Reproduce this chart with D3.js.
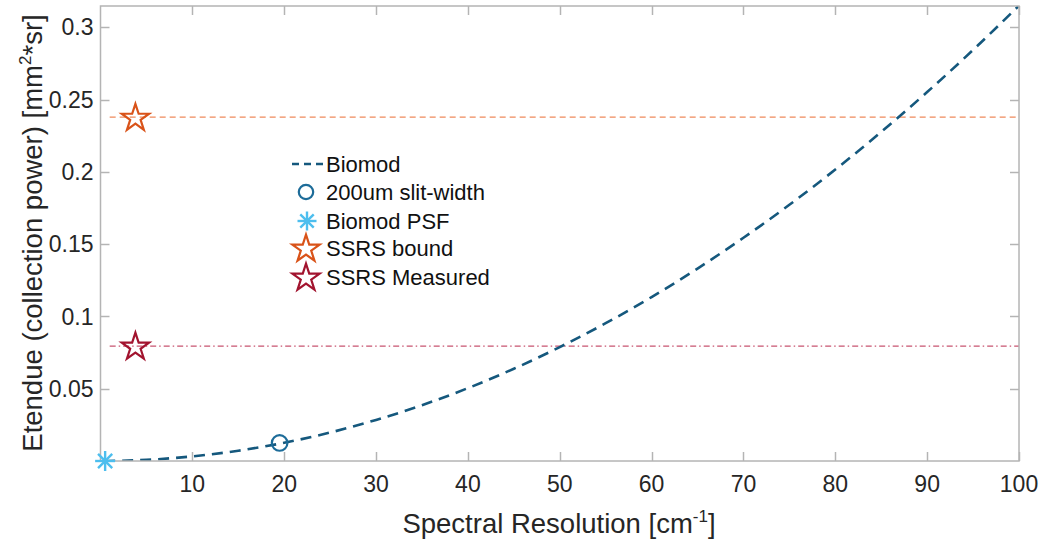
<!DOCTYPE html>
<html>
<head>
<meta charset="utf-8">
<script src="https://cdn.jsdelivr.net/npm/d3@7"></script>
<style>
  html, body { margin: 0; padding: 0; background: #fff; }
  svg { display: block; font-family: "Liberation Sans", Arial, sans-serif; }
</style>
</head>
<body>
<svg id="chart" width="1042" height="544"></svg>
<script>
// Etendue of the Biomod design as a function of spectral resolution
const resolution = [0.4, 5, 10, 15, 20, 25, 30, 35, 40, 45, 50, 55, 60, 65, 70, 75, 80, 85, 90, 95, 100];
const etendue    = [0.0000, 0.0008, 0.0032, 0.0071, 0.0126, 0.0197, 0.0284, 0.0386, 0.0504, 0.0638,
                    0.0788, 0.0953, 0.1134, 0.1331, 0.1544, 0.1772, 0.2016, 0.2276, 0.2552, 0.2843, 0.3150];

// Single operating points
const slitPoint = [19.5, 0.0125];
const psfPoint = [0.45, 0.0];
const ssrsBoundPoint = [3.8, 0.2378];
const ssrsMeasuredPoint = [3.8, 0.0795];

// Reference levels drawn across the plot
const ssrsBoundLevel = 0.2378;
const ssrsMeasuredLevel = 0.0795;
const levelStart = 1.0;

const xTicks = [10, 20, 30, 40, 50, 60, 70, 80, 90, 100];
const yTicks = [0.05, 0.1, 0.15, 0.2, 0.25, 0.3];
const xDomain = [0, 100];
const yDomain = [0, 0.3147];

const legendLabels = ["Biomod", "200um slit-width", "Biomod PSF", "SSRS bound", "SSRS Measured"];

const colors = {
  curve: "#15587d",
  slit: "#1d6c99",
  psf: "#4dbeee",
  bound: "#d95319",
  boundLine: "#ef8a5c",
  measured: "#a2142f",
  measuredLine: "#c85470",
  axis: "#b4b4b4",
  text: "#262626"
};

const svg = d3.select("#chart");
const m = { left: 100.5, right: 1019, top: 6, bottom: 461 };

const x = d3.scaleLinear().domain(xDomain).range([m.left, m.right]);
const y = d3.scaleLinear().domain(yDomain).range([m.bottom, m.top]);

const plot = svg.append("g");

// clip so nothing crosses the box
svg.append("defs").append("clipPath").attr("id", "clip")
  .append("rect").attr("x", m.left).attr("y", m.top)
  .attr("width", m.right - m.left).attr("height", m.bottom - m.top);

// reference levels
plot.append("line")
  .attr("x1", x(levelStart)).attr("x2", x(xDomain[1]))
  .attr("y1", y(ssrsBoundLevel)).attr("y2", y(ssrsBoundLevel))
  .attr("stroke", colors.boundLine).attr("stroke-width", 1.3)
  .attr("stroke-dasharray", "6,4");

plot.append("line")
  .attr("x1", x(levelStart)).attr("x2", x(xDomain[1]))
  .attr("y1", y(ssrsMeasuredLevel)).attr("y2", y(ssrsMeasuredLevel))
  .attr("stroke", colors.measuredLine).attr("stroke-width", 1.3)
  .attr("stroke-dasharray", "6,3,1.5,3");

// Biomod curve
const line = d3.line()
  .x((d, i) => x(resolution[i]))
  .y(d => y(d))
  .curve(d3.curveMonotoneX);

plot.append("path")
  .datum(etendue)
  .attr("clip-path", "url(#clip)")
  .attr("d", line)
  .attr("fill", "none")
  .attr("stroke", colors.curve)
  .attr("stroke-width", 2.6)
  .attr("stroke-dasharray", "11,7");

// marker shapes
const starSize = 232;
function drawStar(g, cx, cy, color) {
  g.append("path")
    .attr("d", d3.symbol().type(d3.symbolStar).size(starSize)())
    .attr("transform", `translate(${cx},${cy})`)
    .attr("fill", "none")
    .attr("stroke", color)
    .attr("stroke-width", 2.2)
    .attr("stroke-linejoin", "miter");
}
function drawAsterisk(g, cx, cy, color, r) {
  const a = g.append("g").attr("transform", `translate(${cx},${cy})`);
  [0, 45, 90, 135].forEach(ang => {
    const rad = ang * Math.PI / 180;
    a.append("line")
      .attr("x1", -r * Math.cos(rad)).attr("y1", -r * Math.sin(rad))
      .attr("x2", r * Math.cos(rad)).attr("y2", r * Math.sin(rad))
      .attr("stroke", color).attr("stroke-width", 2.4);
  });
}
function drawCircle(g, cx, cy, color, r) {
  g.append("circle").attr("cx", cx).attr("cy", cy).attr("r", r)
    .attr("fill", "none").attr("stroke", color).attr("stroke-width", 2.2);
}

drawCircle(plot, x(slitPoint[0]), y(slitPoint[1]), colors.slit, 7.8);
drawStar(plot, x(ssrsBoundPoint[0]), y(ssrsBoundPoint[1]) + 1, colors.bound);
drawStar(plot, x(ssrsMeasuredPoint[0]), y(ssrsMeasuredPoint[1]) + 1, colors.measured);

// axes box with inward ticks on all sides
const tickLen = 9;
const tickFont = 23;
const axes = svg.append("g");
axes.append("rect")
  .attr("x", m.left).attr("y", m.top)
  .attr("width", m.right - m.left).attr("height", m.bottom - m.top)
  .attr("fill", "none").attr("stroke", colors.axis).attr("stroke-width", 1.5);

xTicks.forEach(t => {
  const px = Math.round(x(t)) + 0.5;
  axes.append("line").attr("x1", px).attr("x2", px)
    .attr("y1", m.bottom).attr("y2", m.bottom - tickLen)
    .attr("stroke", colors.axis).attr("stroke-width", 1.5);
  axes.append("line").attr("x1", px).attr("x2", px)
    .attr("y1", m.top).attr("y2", m.top + tickLen)
    .attr("stroke", colors.axis).attr("stroke-width", 1.5);
  axes.append("text").attr("x", x(t)).attr("y", 491.5)
    .attr("text-anchor", "middle").attr("font-size", tickFont)
    .attr("fill", colors.text).text(d3.format("d")(t));
});

yTicks.forEach(t => {
  const py = Math.round(y(t)) + 0.5;
  axes.append("line").attr("x1", m.left).attr("x2", m.left + tickLen)
    .attr("y1", py).attr("y2", py)
    .attr("stroke", colors.axis).attr("stroke-width", 1.5);
  axes.append("line").attr("x1", m.right).attr("x2", m.right - tickLen)
    .attr("y1", py).attr("y2", py)
    .attr("stroke", colors.axis).attr("stroke-width", 1.5);
  axes.append("text").attr("x", m.left - 7).attr("y", y(t) + 8.2)
    .attr("text-anchor", "end").attr("font-size", tickFont)
    .attr("fill", colors.text).text(String(t));
});

// asterisk drawn over the axis line
drawAsterisk(svg, x(psfPoint[0]) + 0.5, y(psfPoint[1]), colors.psf, 10);

// axis titles
const xl = svg.append("text").attr("x", 559).attr("y", 533)
  .attr("text-anchor", "middle").attr("font-size", 27.5).attr("fill", colors.text);
xl.append("tspan").text("Spectral Resolution [cm");
xl.append("tspan").attr("font-size", 17).attr("dy", -11).text("-1");
xl.append("tspan").attr("dy", 11).text("]");

const yl = svg.append("text")
  .attr("transform", "translate(42,233) rotate(-90)")
  .attr("text-anchor", "middle").attr("font-size", 27.5).attr("fill", colors.text);
yl.append("tspan").text("Etendue (collection power) [mm");
yl.append("tspan").attr("font-size", 17).attr("dy", -11).text("2");
yl.append("tspan").attr("dy", 11).text("*sr]");

// legend
const legend = svg.append("g");
const legY = [164, 192, 221, 248, 277];
const iconX = 306;
const textX = 326;
legendLabels.forEach((lab, i) => {
  legend.append("text").attr("x", textX).attr("y", legY[i] + 7.5)
    .attr("font-size", 22).attr("fill", "#111").text(lab);
});
legend.append("line").attr("x1", 292).attr("x2", 324)
  .attr("y1", legY[0]).attr("y2", legY[0])
  .attr("stroke", colors.curve).attr("stroke-width", 2.4).attr("stroke-dasharray", "7,5");
drawCircle(legend, iconX, legY[1], colors.slit, 7.2);
drawAsterisk(legend, iconX + 1, legY[2], colors.psf, 9.5);
drawStar(legend, iconX, legY[3] + 1, colors.bound);
drawStar(legend, iconX, legY[4] + 1, colors.measured);
</script>
</body>
</html>
